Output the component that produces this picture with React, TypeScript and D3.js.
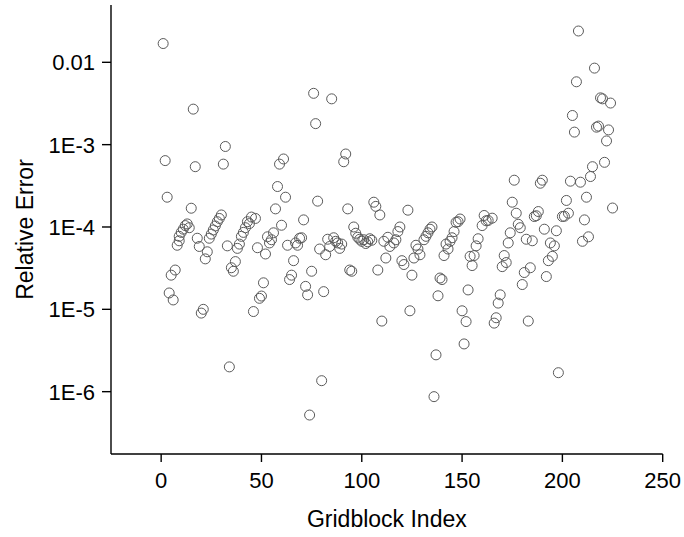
import React from "react";
import * as d3 from "d3";

// gridblock index and relative error
const gridblockIndex = [
  1, 2, 3, 4, 5, 6, 7, 8, 9, 9, 10, 11, 12, 13, 14, 15, 16, 17, 18, 19,
  20, 21, 22, 23, 24, 25, 26, 27, 28, 29, 30, 31, 32, 33, 34, 35, 36, 37, 38, 39,
  40, 41, 42, 43, 44, 45, 46, 47, 48, 49, 50, 51, 52, 53, 54, 55, 56, 57, 58, 59,
  60, 61, 62, 63, 64, 65, 66, 67, 68, 69, 70, 71, 72, 73, 74, 75, 76, 77, 78, 79,
  80, 81, 82, 83, 84, 85, 86, 87, 88, 89, 90, 91, 92, 93, 94, 95, 96, 97, 98, 99,
  100, 101, 102, 103, 104, 105, 106, 107, 108, 109, 110, 111, 112, 113, 114, 116, 117, 118, 119, 120,
  121, 123, 124, 125, 126, 127, 128, 129, 131, 132, 133, 134, 135, 136, 137, 138, 139, 140, 141, 142,
  143, 144, 145, 146, 147, 148, 149, 150, 151, 152, 153, 154, 155, 156, 157, 158, 160, 161, 162, 163,
  165, 166, 167, 168, 169, 170, 171, 172, 173, 174, 175, 176, 177, 178, 179, 180, 181, 182, 183, 184,
  185, 186, 187, 188, 189, 190, 191, 192, 193, 194, 195, 196, 197, 198, 200, 201, 202, 203, 204, 205,
  206, 207, 208, 209, 210, 211, 212, 213, 214, 215, 216, 217, 218, 219, 220, 221, 222, 223, 224, 225,
];

const relativeError = [
  1.69e-2, 6.4e-4, 2.3e-4, 1.58e-5, 2.6e-5, 1.3e-5, 3.0e-5, 6.0e-5, 6.8e-5, 7.7e-5,
  8.6e-5, 9.4e-5, 1.04e-4, 1.09e-4, 9.8e-5, 1.69e-4, 2.7e-3, 5.4e-4, 7.3e-5, 5.8e-5,
  9.0e-6, 1.0e-5, 4.1e-5, 5.0e-5, 7.3e-5, 8.2e-5, 9.2e-5, 1.03e-4, 1.16e-4, 1.27e-4,
  1.4e-4, 5.8e-4, 9.5e-4, 5.9e-5, 2.0e-6, 3.2e-5, 2.9e-5, 3.8e-5, 5.5e-5, 6.2e-5,
  7.7e-5, 8.6e-5, 9.8e-5, 1.16e-4, 1.1e-4, 1.32e-4, 9.4e-6, 1.27e-4, 5.6e-5, 1.36e-5,
  1.45e-5, 2.1e-5, 4.7e-5, 7.6e-5, 6.4e-5, 7.0e-5, 8.5e-5, 1.66e-4, 3.1e-4, 5.8e-4,
  1.05e-4, 6.7e-4, 2.3e-4, 6.0e-5, 2.3e-5, 2.6e-5, 3.9e-5, 6.4e-5, 6.0e-5, 7.3e-5,
  7.4e-5, 1.22e-4, 1.9e-5, 1.5e-5, 5.2e-7, 2.9e-5, 4.2e-3, 1.8e-3, 2.06e-4, 5.4e-5,
  1.36e-6, 1.64e-5, 4.6e-5, 7.1e-5, 5.8e-5, 3.6e-3, 7.4e-5, 6.7e-5, 6.4e-5, 5.5e-5,
  6.2e-5, 6.2e-4, 7.7e-4, 1.66e-4, 3.0e-5, 2.9e-5, 1.0e-4, 8.4e-5, 7.5e-5, 7.1e-5,
  6.7e-5, 7.0e-5, 6.3e-5, 6.6e-5, 7.2e-5, 6.9e-5, 2.0e-4, 1.78e-4, 3.0e-5, 1.4e-4,
  7.2e-6, 6.7e-5, 4.2e-5, 7.5e-5, 5.8e-5, 6.4e-5, 7.0e-5, 8.8e-5, 1.0e-4, 3.9e-5,
  3.5e-5, 1.6e-4, 9.6e-6, 2.6e-5, 4.2e-5, 6.0e-5, 5.4e-5, 4.6e-5, 7.0e-5, 7.7e-5,
  8.5e-5, 9.4e-5, 1.0e-4, 8.7e-7, 2.8e-6, 1.46e-5, 2.4e-5, 2.3e-5, 4.5e-5, 6.2e-5,
  5.4e-5, 6.7e-5, 7.4e-5, 8.8e-5, 1.14e-4, 1.16e-4, 1.25e-4, 9.6e-6, 3.8e-6, 7.1e-6,
  1.72e-5, 4.4e-5, 3.4e-5, 4.5e-5, 5.9e-5, 7.2e-5, 1.04e-4, 1.38e-4, 1.19e-4, 1.2e-4,
  1.28e-4, 6.8e-6, 7.9e-6, 1.19e-5, 1.5e-5, 3.3e-5, 4.5e-5, 3.7e-5, 6.4e-5, 8.5e-5,
  2.0e-4, 3.7e-4, 1.47e-4, 1.08e-4, 9.8e-5, 2.0e-5, 2.8e-5, 7.1e-5, 7.2e-6, 3.2e-5,
  6.8e-5, 1.34e-4, 1.37e-4, 1.54e-4, 3.4e-4, 3.7e-4, 9.4e-5, 2.5e-5, 3.9e-5, 6.4e-5,
  4.4e-5, 5.9e-5, 9.0e-5, 1.7e-6, 1.34e-4, 1.35e-4, 2.1e-4, 1.47e-4, 3.6e-4, 2.26e-3,
  1.42e-3, 5.8e-3, 2.4e-2, 3.5e-4, 6.7e-5, 1.22e-4, 2.3e-4, 7.6e-5, 4.1e-4, 5.4e-4,
  8.5e-3, 1.63e-3, 1.68e-3, 3.7e-3, 3.6e-3, 6.1e-4, 1.11e-3, 1.51e-3, 3.2e-3, 1.7e-4,
];

const xTicks = [0, 50, 100, 150, 200, 250];
const yTicks = [1e-6, 1e-5, 1e-4, 1e-3, 1e-2];
const yTickLabels = ["1E-6", "1E-5", "1E-4", "1E-3", "0.01"];

const W = 684;
const H = 537;
const FONT = "'Liberation Sans', Arial, sans-serif";

export default function App() {
  const left = 111, right = 662.7, top = 5, bottom = 454;

  const x = d3.scaleLinear().domain([-25, 250]).range([left, right]);
  const y = d3
    .scaleLog()
    .domain([Math.pow(10, -6.757), Math.pow(10, -1.304)])
    .range([bottom, top]);

  const points = gridblockIndex.map((g, i) => ({ g, v: relativeError[i] }));

  return (
    <svg
      width={W}
      height={H}
      style={{ position: "absolute", left: 0, top: 0, background: "#fff" }}
      fontFamily={FONT}
    >
      {/* points */}
      <g fill="none" stroke="#5a5a5a" strokeWidth={1}>
        {points.map((p, i) => (
          <circle key={i} cx={x(p.g)} cy={y(p.v)} r={5} />
        ))}
      </g>

      {/* axes */}
      <g stroke="#000" strokeWidth={1.4} fill="none">
        <line x1={left} x2={left} y1={top} y2={bottom} />
        <line x1={left} x2={right} y1={bottom} y2={bottom} />
        {yTicks.map((t) => (
          <line key={t} x1={left - 9} x2={left} y1={y(t)} y2={y(t)} />
        ))}
        {xTicks.map((t) => (
          <line key={t} x1={x(t)} x2={x(t)} y1={bottom} y2={bottom + 8} />
        ))}
      </g>

      <g fontSize={22} fill="#000">
        {yTicks.map((t, i) => (
          <text key={t} x={left - 16} y={y(t)} dy="0.36em" textAnchor="end">
            {yTickLabels[i]}
          </text>
        ))}
        {xTicks.map((t) => (
          <text key={t} x={x(t)} y={487.5} textAnchor="middle">
            {t}
          </text>
        ))}
      </g>

      <text x={(left + right) / 2} y={527} textAnchor="middle" fontSize={23}>
        Gridblock Index
      </text>
      <text
        transform={`translate(33,${(top + bottom) / 2}) rotate(-90)`}
        textAnchor="middle"
        fontSize={23}
      >
        Relative Error
      </text>
    </svg>
  );
}
